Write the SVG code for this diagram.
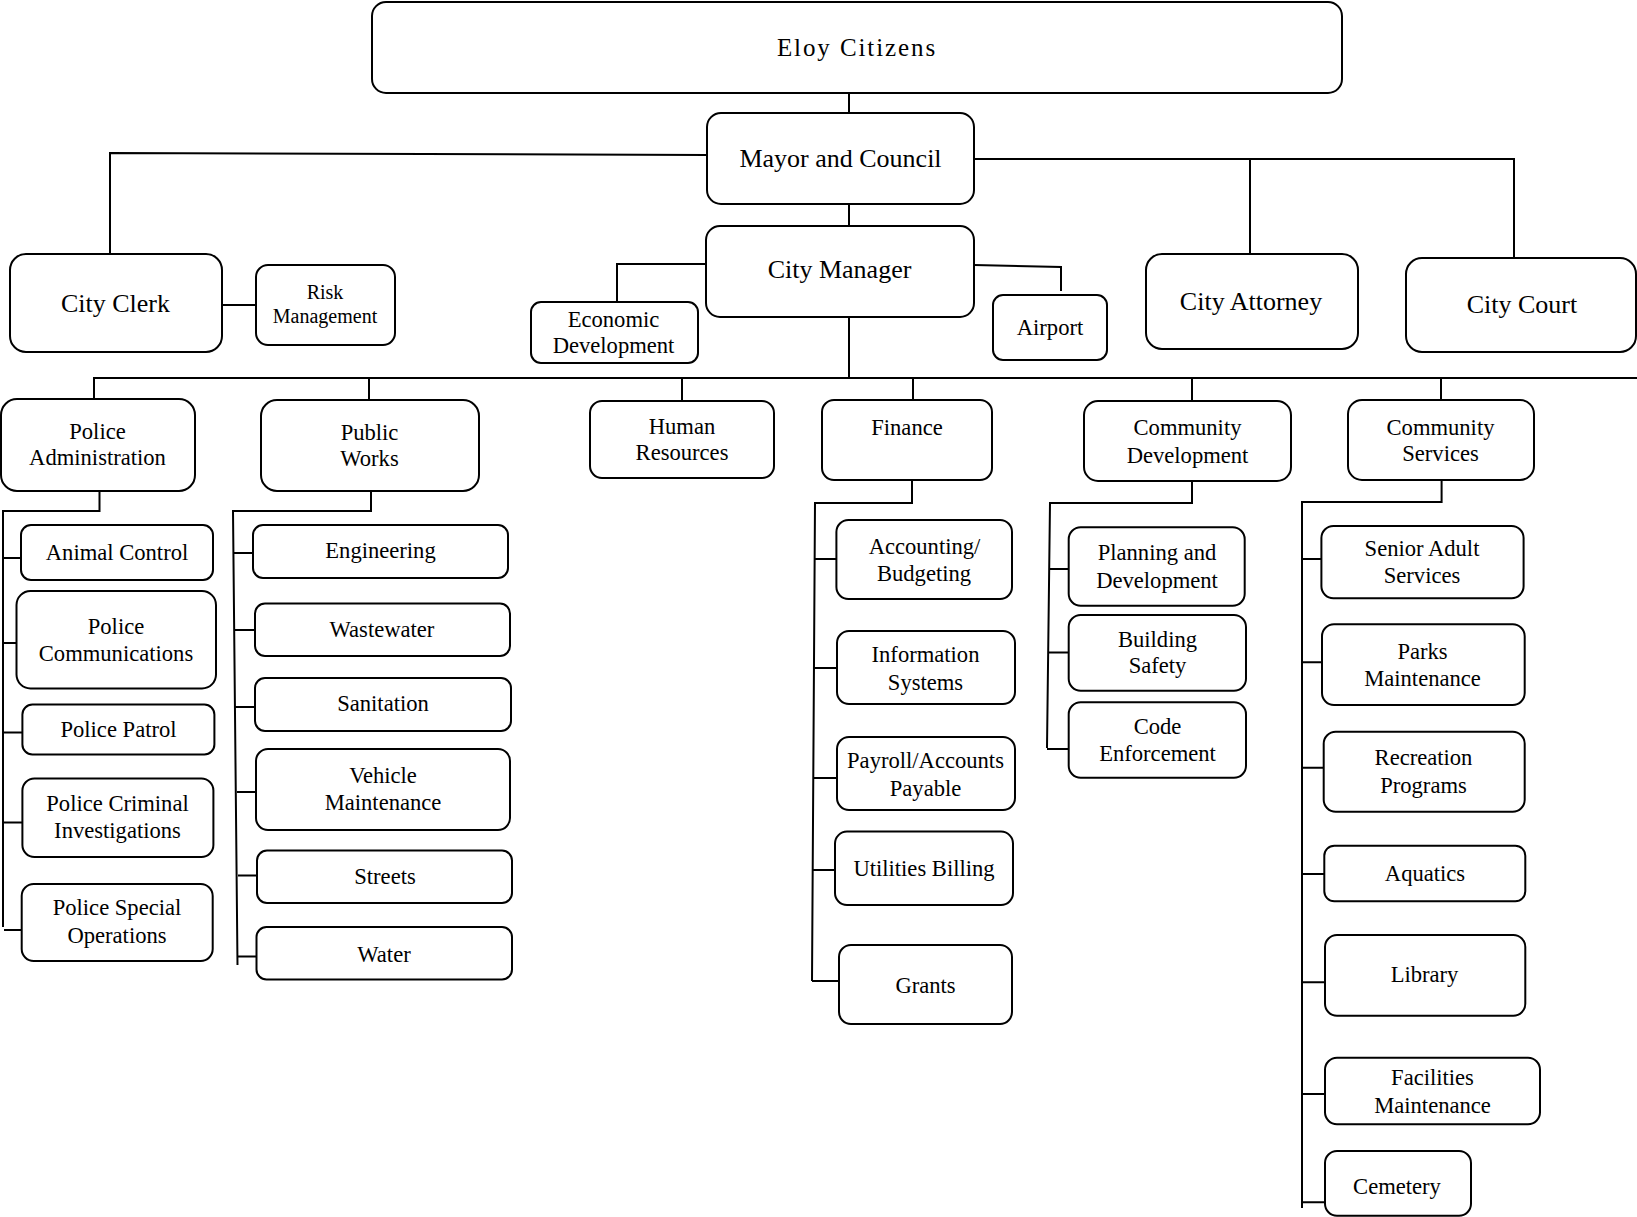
<svg xmlns="http://www.w3.org/2000/svg" width="1637" height="1217" viewBox="0 0 1637 1217">
<style>
rect{fill:#fff;stroke:#000;stroke-width:2}
text{font-family:"Liberation Serif","Times New Roman",serif;fill:#000;text-anchor:middle;font-size:22.6px}
.big{font-size:26px}
.top{font-size:25px;letter-spacing:1.9px}
.sm{font-size:20px}
#connectors path{fill:none;stroke:#000;stroke-width:2}
</style>
<rect x="0" y="0" width="1637" height="1217" style="stroke:none"/>
<g id="connectors">
<path d="M849 93V113"/>
<path d="M849 204V226"/>
<path d="M707 155L110 153V254"/>
<path d="M974 159H1514V258"/>
<path d="M1250 159V254"/>
<path d="M222 305H256"/>
<path d="M706 264H617V302"/>
<path d="M974 265L1061 267V291"/>
<path d="M849 317V378"/>
<path d="M93 378H1637"/>
<path d="M94 378V399M369 378V400M682 378V401M913 378V400M1192 378V401M1441 378V400"/>
<path d="M99.5 491V511H3V927"/>
<path d="M3 558H21M3 643H16.5M3 732.5H22.4M3 822.5H22.4M4 930H22"/>
<path d="M371 491V511H233L237.5 965"/>
<path d="M233 553H253M234 630H255M235 707H255.5M237 792H256M238 875.5H257M238 956.6H256.5"/>
<path d="M912 480V503H815L812 981"/>
<path d="M815 559H836.4M814 668H837M813.5 778H837M813 870H835M812 981H839"/>
<path d="M1192 481V503H1050L1047 748"/>
<path d="M1050 569H1068.7M1049 652.5H1068.7M1047 749H1068.7"/>
<path d="M1441.6 480V502H1302V1208"/>
<path d="M1302 559H1321.4M1302 662.3H1322M1302 767.7H1323.7M1302 874H1324.3M1302 982.3H1325M1302 1094H1325M1302 1202.3H1325"/>
</g>
<g id="eloy-citizens"><rect x="372" y="2" width="970" height="91" rx="14"/><text class="top" x="857" y="56">Eloy Citizens</text></g>
<g id="mayor-council"><rect x="707" y="113" width="267" height="91" rx="14"/><text class="big" x="840.5" y="167">Mayor and Council</text></g>
<g id="city-manager"><rect x="706" y="226" width="268" height="91" rx="14"/><text class="big" x="839.5" y="278">City Manager</text></g>
<g id="city-clerk"><rect x="10" y="254" width="212" height="98" rx="16"/><text class="big" x="115.5" y="312">City Clerk</text></g>
<g id="risk-management"><rect x="256" y="265" width="139" height="80" rx="12"/><text class="sm" x="325" y="299">Risk</text><text class="sm" x="325" y="323">Management</text></g>
<g id="economic-development"><rect x="531" y="302" width="167" height="61" rx="10"/><text x="613.5" y="327">Economic</text><text x="613.5" y="353">Development</text></g>
<g id="airport"><rect x="993" y="295" width="114" height="65" rx="10"/><text x="1050" y="335">Airport</text></g>
<g id="city-attorney"><rect x="1146" y="254" width="212" height="95" rx="16"/><text class="big" x="1251" y="310">City Attorney</text></g>
<g id="city-court"><rect x="1406" y="258" width="230" height="94" rx="16"/><text class="big" x="1522" y="313">City Court</text></g>
<g id="police-administration"><rect x="1" y="399" width="194" height="92" rx="16"/><text x="97.5" y="438.5">Police</text><text x="97.5" y="465">Administration</text></g>
<g id="public-works"><rect x="261" y="400" width="218" height="91" rx="16"/><text x="369.5" y="439.5">Public</text><text x="369.5" y="466">Works</text></g>
<g id="human-resources"><rect x="590" y="401" width="184" height="77" rx="12"/><text x="682" y="434">Human</text><text x="682" y="460">Resources</text></g>
<g id="finance"><rect x="822" y="400" width="170" height="80" rx="12"/><text x="907" y="434.5">Finance</text></g>
<g id="community-development"><rect x="1084" y="401" width="207" height="80" rx="14"/><text x="1187.5" y="435">Community</text><text x="1187.5" y="462.5">Development</text></g>
<g id="community-services"><rect x="1348" y="400" width="186" height="80" rx="14"/><text x="1440.5" y="435">Community</text><text x="1440.5" y="461">Services</text></g>
<g id="animal-control"><rect x="21" y="525" width="192" height="55" rx="10"/><text x="117" y="559.5">Animal Control</text></g>
<g id="police-communications"><rect x="16.5" y="591" width="199.5" height="97.5" rx="14"/><text x="116" y="633.5">Police</text><text x="116" y="660.5">Communications</text></g>
<g id="police-patrol"><rect x="22.4" y="704.5" width="192" height="50" rx="10"/><text x="118.5" y="736.5">Police Patrol</text></g>
<g id="police-criminal-investigations"><rect x="22.4" y="778.5" width="191" height="78.5" rx="12"/><text x="117.5" y="811">Police Criminal</text><text x="117.5" y="838">Investigations</text></g>
<g id="police-special-operations"><rect x="21.7" y="884" width="191" height="77" rx="12"/><text x="117" y="915">Police Special</text><text x="117" y="942.5">Operations</text></g>
<g id="engineering"><rect x="253" y="525" width="255" height="53" rx="10"/><text x="380.5" y="557.5">Engineering</text></g>
<g id="wastewater"><rect x="255" y="603.5" width="255" height="52.5" rx="10"/><text x="382" y="636.5">Wastewater</text></g>
<g id="sanitation"><rect x="255" y="678" width="256" height="53" rx="10"/><text x="383" y="710.5">Sanitation</text></g>
<g id="vehicle-maintenance"><rect x="256" y="749" width="254" height="81" rx="12"/><text x="383" y="782.5">Vehicle</text><text x="383" y="810">Maintenance</text></g>
<g id="streets"><rect x="257" y="850.5" width="255" height="52.5" rx="10"/><text x="385" y="884">Streets</text></g>
<g id="water"><rect x="256.5" y="927" width="255.5" height="52.5" rx="10"/><text x="384" y="961.5">Water</text></g>
<g id="accounting-budgeting"><rect x="836.4" y="520" width="175.6" height="79" rx="12"/><text x="924.5" y="554">Accounting/</text><text x="924" y="581">Budgeting</text></g>
<g id="information-systems"><rect x="837" y="631" width="178" height="73" rx="12"/><text x="925.5" y="662">Information</text><text x="925.5" y="689.5">Systems</text></g>
<g id="payroll-accounts-payable"><rect x="837" y="737" width="178" height="73" rx="12"/><text x="925.5" y="768">Payroll/Accounts</text><text x="925.5" y="796">Payable</text></g>
<g id="utilities-billing"><rect x="835" y="831.6" width="178" height="73.4" rx="12"/><text x="924" y="876">Utilities Billing</text></g>
<g id="grants"><rect x="839" y="945" width="173" height="79" rx="12"/><text x="925.5" y="992.5">Grants</text></g>
<g id="planning-development"><rect x="1068.7" y="527.3" width="176" height="78.4" rx="12"/><text x="1157" y="560">Planning and</text><text x="1157" y="587.5">Development</text></g>
<g id="building-safety"><rect x="1068.7" y="615" width="177.3" height="75.7" rx="12"/><text x="1157.5" y="646.5">Building</text><text x="1157.5" y="672.5">Safety</text></g>
<g id="code-enforcement"><rect x="1068.7" y="702.3" width="177.3" height="75.4" rx="12"/><text x="1157.5" y="733.5">Code</text><text x="1157.5" y="761">Enforcement</text></g>
<g id="senior-adult-services"><rect x="1321.4" y="526" width="202.2" height="72.3" rx="12"/><text x="1422" y="555.5">Senior Adult</text><text x="1422" y="582.5">Services</text></g>
<g id="parks-maintenance"><rect x="1322" y="624.3" width="202.7" height="80.7" rx="12"/><text x="1422.5" y="658.5">Parks</text><text x="1422.5" y="685.5">Maintenance</text></g>
<g id="recreation-programs"><rect x="1323.7" y="731.7" width="201" height="80" rx="12"/><text x="1423.5" y="765">Recreation</text><text x="1423.5" y="792.5">Programs</text></g>
<g id="aquatics"><rect x="1324.3" y="845.7" width="201" height="55.6" rx="10"/><text x="1425" y="881">Aquatics</text></g>
<g id="library"><rect x="1325" y="935" width="200.3" height="80.7" rx="12"/><text x="1424.5" y="981.5">Library</text></g>
<g id="facilities-maintenance"><rect x="1325" y="1057.7" width="215" height="66.6" rx="12"/><text x="1432.5" y="1084.5">Facilities</text><text x="1432.5" y="1112.5">Maintenance</text></g>
<g id="cemetery"><rect x="1325" y="1151" width="146" height="64.7" rx="12"/><text x="1397" y="1194">Cemetery</text></g>
</svg>
